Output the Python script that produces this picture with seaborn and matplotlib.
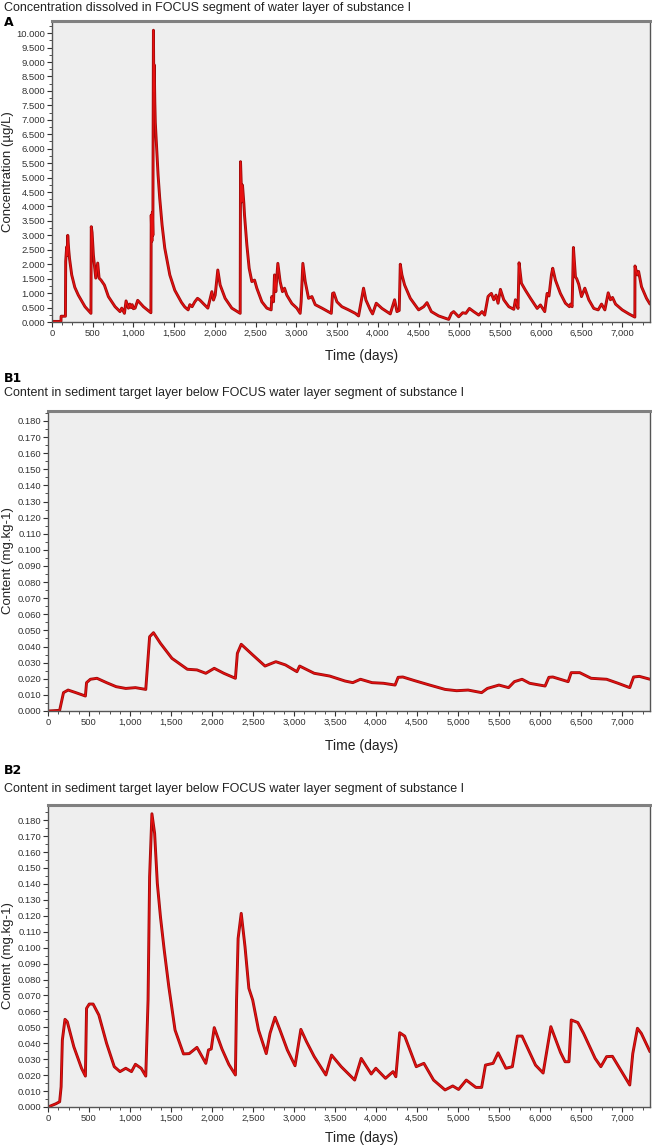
import numpy as np
import pandas as pd
import matplotlib
matplotlib.use("Agg")
import matplotlib.pyplot as plt
import seaborn as sns
from matplotlib.ticker import MultipleLocator, FuncFormatter

# ---------------- data ----------------
a_days = [0, 110, 112, 165, 168, 180, 186, 193, 205, 215, 242, 280, 323, 405, 478,
          482, 492, 508, 537, 561, 578, 602, 643, 692, 774, 835, 856, 889, 909, 938,
          955, 970, 985, 999, 1020, 1052, 1122, 1214, 1218, 1226, 1232, 1238, 1245,
          1250, 1255, 1262, 1268, 1285, 1302, 1322, 1351, 1384, 1446, 1507, 1589,
          1630, 1671, 1692, 1720, 1753, 1786, 1815, 1856, 1913, 1962, 1982, 2003,
          2035, 2064, 2125, 2207, 2310, 2314, 2330, 2338, 2355, 2363, 2392, 2420,
          2453, 2486, 2514, 2576, 2637, 2690, 2698, 2719, 2731, 2747, 2772, 2800,
          2829, 2854, 2882, 2944, 3005, 3046, 3058, 3079, 3108, 3149, 3190, 3231,
          3313, 3428, 3444, 3460, 3497, 3558, 3640, 3722, 3763, 3824, 3853, 3907,
          3935, 3980, 4050, 4152, 4205, 4234, 4262, 4275, 4295, 4328, 4398, 4500,
          4562, 4603, 4656, 4746, 4869, 4902, 4930, 4992, 5041, 5080, 5123, 5176,
          5238, 5278, 5311, 5352, 5368, 5393, 5422, 5450, 5475, 5504, 5545, 5607,
          5668, 5688, 5720, 5733, 5762, 5811, 5873, 5955, 5995, 6048, 6077, 6100,
          6130, 6146, 6179, 6240, 6302, 6351, 6365, 6384, 6400, 6425, 6440, 6466,
          6499, 6540, 6589, 6650, 6704, 6745, 6786, 6827, 6855, 6880, 6917, 6999,
          7081, 7154, 7156, 7184, 7200, 7236, 7297, 7340]
a_conc = [0.02, 0.02, 0.2, 0.2, 2.1, 2.6, 2.3, 3.0, 2.5, 2.2, 1.63, 1.2, 0.93, 0.53, 0.30,
          3.3, 3.1, 2.32, 1.52, 2.04, 1.52, 1.45, 1.28, 0.88, 0.53, 0.36, 0.48, 0.30, 0.73, 0.48,
          0.62, 0.50, 0.60, 0.46, 0.48, 0.75, 0.53, 0.32, 3.7, 2.8, 3.8, 3.0, 10.1,
          8.0, 8.9, 7.6, 6.9, 6.0, 5.09, 4.29, 3.36, 2.56, 1.63, 1.10, 0.68,
          0.52, 0.42, 0.60, 0.53, 0.70, 0.82, 0.76, 0.64, 0.48, 1.05, 0.76, 0.93,
          1.80, 1.28, 0.82, 0.48, 0.30, 5.55, 4.16, 4.74, 4.1, 3.7, 2.66, 1.86,
          1.40, 1.45, 1.17, 0.70, 0.48, 0.42, 0.88, 0.70, 1.63, 1.05, 2.03, 1.40,
          1.05, 1.17, 0.93, 0.64, 0.48, 0.30, 0.70, 2.03, 1.40, 0.82, 0.88, 0.60,
          0.48, 0.30, 0.99, 1.01, 0.70, 0.53, 0.42, 0.30, 0.21, 1.17, 0.76, 0.42,
          0.28, 0.65, 0.47, 0.28, 0.77, 0.36, 0.40, 2.0, 1.63, 1.28, 0.82, 0.42,
          0.53, 0.67, 0.36, 0.21, 0.09, 0.30, 0.36, 0.18, 0.32, 0.30, 0.47, 0.36,
          0.24, 0.36, 0.24, 0.88, 0.93, 0.99, 0.77, 0.93, 0.65, 1.13, 0.77, 0.53,
          0.44, 0.77, 0.47, 2.05, 1.34, 1.10, 0.82, 0.47, 0.59, 0.36, 0.99, 0.90,
          1.63, 1.86, 1.45, 0.99, 0.65, 0.53, 0.62, 0.53, 2.58, 1.56, 1.50, 1.30,
          0.88, 1.17, 0.77, 0.47, 0.42, 0.62, 0.42, 1.01, 0.77, 0.85, 0.62, 0.42,
          0.28, 0.17, 1.94, 1.63, 1.75, 1.22, 0.82, 0.62]

b1_days = [0, 142, 189, 245, 339, 456, 470, 517, 597, 714, 831, 948, 1066, 1192, 1239,
           1286, 1371, 1511, 1699, 1816, 1924, 2027, 2144, 2285, 2309, 2356, 2496, 2646,
           2778, 2895, 3035, 3068, 3246, 3434, 3622, 3716, 3810, 3950, 4091, 4232, 4269,
           4326, 4466, 4654, 4841, 4982, 5122, 5287, 5357, 5498, 5615, 5686, 5780, 5873,
           6061, 6107, 6155, 6342, 6379, 6483, 6622, 6811, 6951, 7093, 7140, 7210, 7340]
b1_content = [0.0, 0.0004, 0.0114, 0.0130, 0.0114, 0.0093, 0.0176, 0.0197, 0.0203, 0.0176,
              0.0151, 0.0140, 0.0145, 0.0134, 0.0461, 0.0486, 0.0420, 0.0327, 0.0259, 0.0255,
              0.0234, 0.0265, 0.0234, 0.0203, 0.0358, 0.0414, 0.0348, 0.0279, 0.0306, 0.0286,
              0.0244, 0.0279, 0.0234, 0.0217, 0.0186, 0.0176, 0.0197, 0.0176, 0.0172, 0.0161,
              0.0209, 0.0211, 0.0189, 0.0161, 0.0134, 0.0126, 0.0130, 0.0114, 0.0140, 0.0161,
              0.0145, 0.0182, 0.0197, 0.0172, 0.0155, 0.0209, 0.0211, 0.0182, 0.0238, 0.0238,
              0.0203, 0.0197, 0.0172, 0.0145, 0.0211, 0.0215, 0.0197]

b2_days = [0, 95, 142, 160, 175, 207, 235, 315, 409, 456, 470, 503, 550, 620, 714, 808,
           878, 948, 1018, 1066, 1136, 1192, 1220, 1239, 1267, 1300, 1333, 1371, 1417,
           1473, 1549, 1652, 1722, 1816, 1924, 1957, 1990, 2027, 2121, 2205, 2285, 2299,
           2318, 2356, 2402, 2449, 2496, 2567, 2661, 2707, 2768, 2824, 2918, 3012, 3083,
           3152, 3246, 3388, 3457, 3575, 3739, 3819, 3941, 3997, 4115, 4207, 4241, 4288,
           4349, 4490, 4583, 4701, 4841, 4935, 5006, 5100, 5217, 5287, 5334, 5427, 5488,
           5583, 5662, 5723, 5780, 5944, 6037, 6131, 6249, 6305, 6352, 6380, 6460, 6530,
           6671, 6741, 6811, 6882, 7093, 7130, 7187, 7234, 7340]
b2_content = [0.0, 0.002, 0.0033, 0.0127, 0.042, 0.055, 0.0535, 0.0378, 0.0243, 0.0194,
              0.0619, 0.0646, 0.0646, 0.0577, 0.040, 0.0253, 0.0222, 0.0243, 0.0222, 0.0268,
              0.0243, 0.0194, 0.0671, 0.1445, 0.184, 0.1717, 0.1403, 0.1194, 0.0985, 0.0755,
              0.0483, 0.0333, 0.0335, 0.0374, 0.0274, 0.0358, 0.0364, 0.0498, 0.0364, 0.0267,
              0.0201, 0.0671, 0.1058, 0.1215, 0.1006, 0.0745, 0.0671, 0.0483, 0.0335, 0.0462,
              0.0563, 0.0489, 0.0358, 0.0259, 0.0487, 0.041, 0.0316, 0.0201, 0.0326, 0.0253,
              0.0169, 0.0305, 0.0207, 0.0243, 0.018, 0.0222, 0.019, 0.0466, 0.0445, 0.0253,
              0.0274, 0.0169, 0.0107, 0.0132, 0.011, 0.0169, 0.0123, 0.0123, 0.0263, 0.0274,
              0.034, 0.0243, 0.0253, 0.0445, 0.0445, 0.0263, 0.0213, 0.0504, 0.0342, 0.0284,
              0.0284, 0.0546, 0.053, 0.0462, 0.0305, 0.0253, 0.0316, 0.0318, 0.0138, 0.0335,
              0.0494, 0.0462, 0.0347]

panel_labels = ["A", "B1", "B2"]
titles = ["Concentration dissolved in FOCUS segment of water layer of substance I",
          "Content in sediment target layer below FOCUS water layer segment of substance I",
          "Content in sediment target layer below FOCUS water layer segment of substance I"]
ylabels = ["Concentration (µg/L)", "Content (mg.kg-1)", "Content (mg.kg-1)"]
xlabel = "Time (days)"

# ---------------- figure ----------------
sns.set_theme(style="ticks")
plt.rcParams["font.family"] = ["Liberation Sans", "DejaVu Sans"]

W, H = 652, 1148
fig = plt.figure(figsize=(W / 100, H / 100), dpi=100)
fig.patch.set_facecolor("white")

def box(l, t, r, b):
    return [l / W, 1 - b / H, (r - l) / W, (b - t) / H]

# (left, top, right, bottom) px, ymax, major, minor, fmt
specs = [
    ((52, 21, 650, 322), 10.42, 0.5, 0.25, "{:.3f}"),
    ((48, 411, 650, 711), 0.1862, 0.01, 0.005, "{:.3f}"),
    ((48, 805, 650, 1107), 0.1895, 0.01, 0.005, "{:.3f}"),
]
series = [(a_days, a_conc), (b1_days, b1_content), (b2_days, b2_content)]
label_y = [22, 378, 771]
title_y = [8, 393, 789]
xlab_y = [356, 746, 1138]

for i, ((l, t, r, b), ymax, maj, mnr, fmt) in enumerate(specs):
    ax = fig.add_axes(box(l, t, r, b))
    ax.set_facecolor("#EEEEEE")
    df = pd.DataFrame({"day": series[i][0], "value": series[i][1]})
    sns.lineplot(data=df, x="day", y="value", ax=ax, sort=False, estimator=None,
                 color="#9E0B0B", linewidth=2.1)
    sns.lineplot(data=df, x="day", y="value", ax=ax, sort=False, estimator=None,
                 color="#E81010", linewidth=0.9)
    ax.set_xlim(0, 7340)
    ax.set_ylim(0, ymax)
    ax.set_xlabel("")
    ax.set_ylabel("")
    ax.xaxis.set_major_locator(MultipleLocator(500))
    ax.xaxis.set_minor_locator(MultipleLocator(125))
    ax.yaxis.set_major_locator(MultipleLocator(maj))
    ax.yaxis.set_minor_locator(MultipleLocator(mnr))
    ax.xaxis.set_major_formatter(FuncFormatter(lambda v, p: f"{int(round(v)):,}"))
    ax.yaxis.set_major_formatter(FuncFormatter(lambda v, p, f=fmt: f.format(v)))
    ax.tick_params(axis="both", which="major", labelsize=6.8, length=3.5, width=0.8,
                   colors="#333333", pad=1.5)
    ax.tick_params(axis="both", which="minor", length=2, width=0.6, colors="#333333")
    for side in ["left", "bottom", "right"]:
        ax.spines[side].set_color("#555555")
        ax.spines[side].set_linewidth(1.0)
    ax.spines["top"].set_color("#808080")
    ax.spines["top"].set_linewidth(2.2)
    ax.grid(False)

    fig.text(4 / W, 1 - label_y[i] / H, panel_labels[i], fontsize=9, fontweight="bold",
             family="DejaVu Sans", ha="left", va="center", color="black")
    fig.text(4 / W, 1 - title_y[i] / H, titles[i], fontsize=9, ha="left", va="center",
             color="#222222")
    fig.text(362 / W, 1 - xlab_y[i] / H, xlabel, fontsize=10, ha="center", va="center",
             color="#222222")
    fig.text(8 / W, 1 - ((t + b) / 2) / H, ylabels[i], fontsize=9.5, rotation=90,
             ha="center", va="center", color="#222222")

fig.savefig("out.png", dpi=100, facecolor="white")
